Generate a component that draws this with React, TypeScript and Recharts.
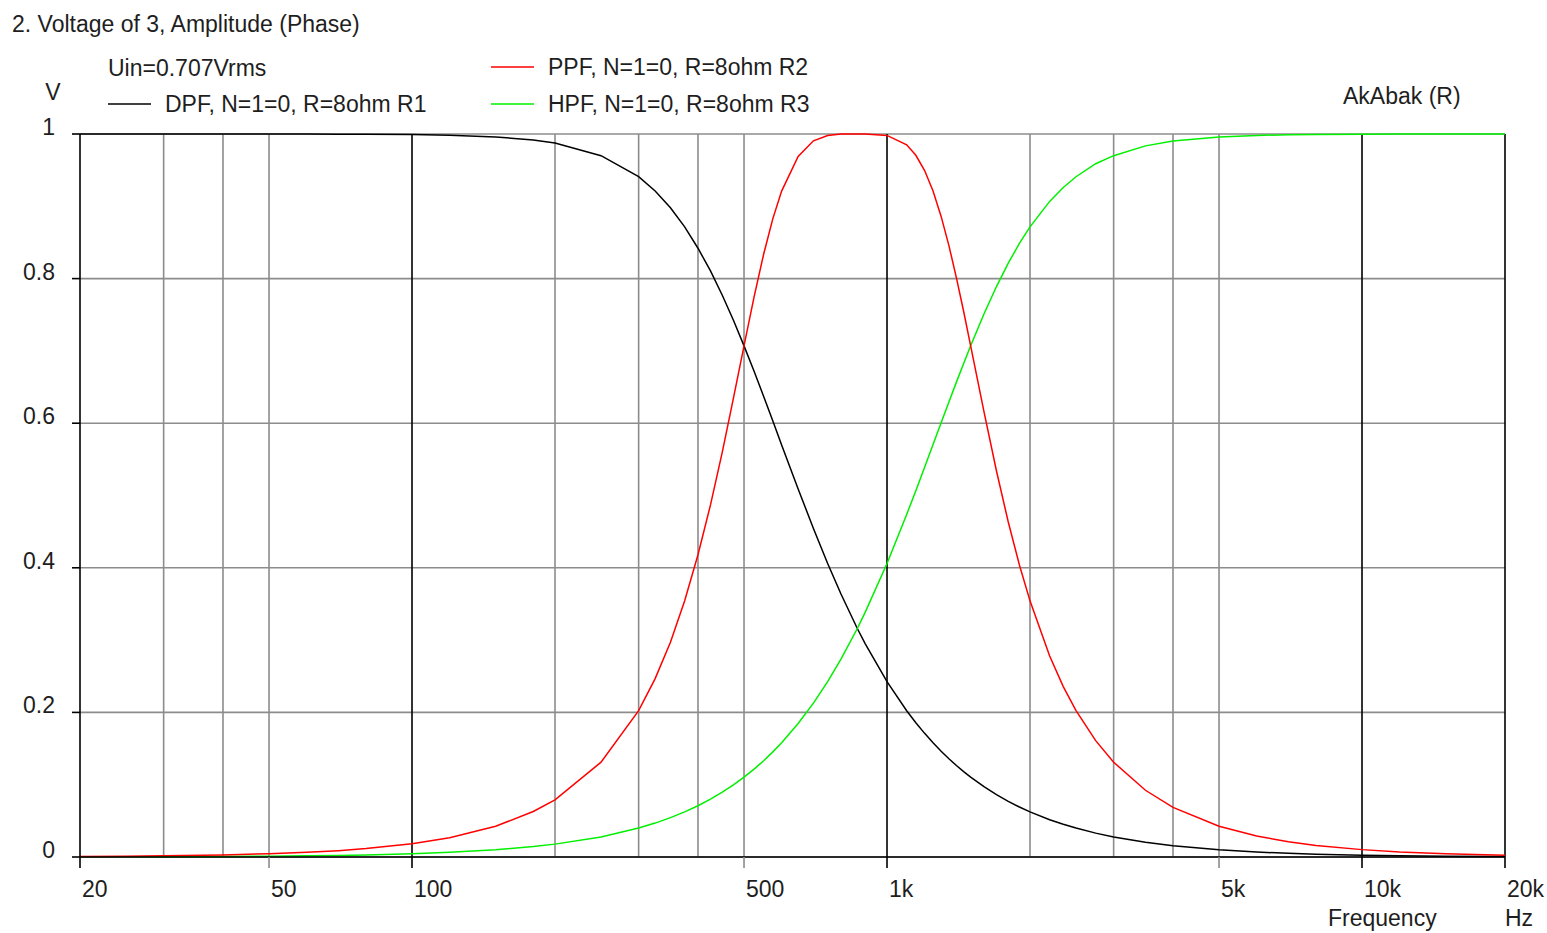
import React from 'react';
import { LineChart, Line, XAxis, YAxis, CartesianGrid, ReferenceLine, Legend } from 'recharts';

// frequency points (Hz), read along the log axis
const freqs = [
  20, 25, 30, 40, 50, 60, 70, 80, 100, 120, 150, 180, 200, 250, 300, 325, 350, 375, 400, 425,
  450, 475, 500, 525, 550, 575, 600, 650, 700, 750, 800, 866, 900, 1000, 1100, 1150, 1200, 1250,
  1300, 1350, 1400, 1450, 1500, 1600, 1700, 1800, 1900, 2000, 2200, 2350, 2500, 2750, 3000, 3500,
  4000, 5000, 6000, 7000, 8000, 10000, 12000, 15000, 20000,
];

// DPF (low pass), black
const dpfVals = [
  1.0, 1.0, 1.0, 1.0, 1.0, 0.9999, 0.9998, 0.9997, 0.9992, 0.9983, 0.996, 0.9917, 0.9875, 0.97,
  0.941, 0.9212, 0.898, 0.8716, 0.842, 0.8106, 0.777, 0.7424, 0.707, 0.6718, 0.637, 0.6031, 0.57,
  0.509, 0.4545, 0.406, 0.3638, 0.316, 0.2949, 0.2425, 0.2023, 0.1857, 0.171, 0.158, 0.1463,
  0.1359, 0.1265, 0.1181, 0.1104, 0.0972, 0.0862, 0.0769, 0.0691, 0.0624, 0.0516, 0.0452, 0.04,
  0.033, 0.0278, 0.0204, 0.0156, 0.01, 0.0069, 0.0051, 0.0039, 0.0025, 0.0017, 0.0011, 0.0006,
];

// PPF (band pass), red
const ppfVals = [
  0.0007, 0.0011, 0.0016, 0.0029, 0.0045, 0.0065, 0.0088, 0.0116, 0.0183, 0.0266, 0.0425, 0.0629,
  0.0791, 0.1312, 0.2024, 0.2467, 0.297, 0.3544, 0.418, 0.487, 0.56, 0.6346, 0.707, 0.7748, 0.834,
  0.883, 0.921, 0.969, 0.9906, 0.998, 1.0, 1.0, 1.0, 0.998, 0.985, 0.9706, 0.9495, 0.9212, 0.886,
  0.8457, 0.801, 0.7545, 0.707, 0.616, 0.5339, 0.4633, 0.4039, 0.3543, 0.278, 0.2357, 0.2024,
  0.1609, 0.1311, 0.0923, 0.0687, 0.0425, 0.029, 0.0211, 0.016, 0.0102, 0.007, 0.0045, 0.0025,
];

// HPF (high pass), green
const hpfVals = [
  0.0002, 0.0003, 0.0004, 0.0007, 0.0011, 0.0016, 0.0022, 0.0028, 0.0044, 0.0064, 0.01, 0.0144,
  0.0178, 0.0278, 0.04, 0.0469, 0.0544, 0.0624, 0.0709, 0.08, 0.0896, 0.0998, 0.1104, 0.1216,
  0.1332, 0.1454, 0.158, 0.1846, 0.2128, 0.2425, 0.2736, 0.316, 0.3387, 0.406, 0.4737, 0.5067,
  0.539, 0.5704, 0.6006, 0.6294, 0.6568, 0.6827, 0.707, 0.7511, 0.789, 0.8214, 0.8486, 0.8716,
  0.9068, 0.9261, 0.9409, 0.9589, 0.97, 0.9836, 0.9903, 0.996, 0.998, 0.999, 0.9994, 0.9996, 1.0,
  1.0, 1.0,
];

const xTicks = [20, 50, 100, 500, 1000, 5000, 10000, 20000];
const yTicks = [0, 0.2, 0.4, 0.6, 0.8, 1];
const grayGrid = [30, 40, 50, 200, 300, 400, 500, 2000, 3000, 4000, 5000];
const blackGrid = [100, 1000, 10000, 20000];

const FONT = '"Liberation Sans", Arial, sans-serif';
const GRAY = '#8c8c8c';
const TXT = '#1e1e1e';

const data = freqs.map((f, i) => ({ f, dpf: dpfVals[i], ppf: ppfVals[i], hpf: hpfVals[i] }));

const fmtHz = (v: number) => (v >= 1000 ? `${v / 1000}k` : `${v}`);

function XTick(props: any) {
  const { x, y, payload } = props;
  const v = payload.value;
  const dark = v === 20 || blackGrid.includes(v);
  return (
    <g>
      <line x1={x} x2={x} y1={y} y2={y + 11} stroke={dark ? '#000' : GRAY} strokeWidth={1.6} />
      <text x={x + 2} y={y + 40} fontSize={23} fontFamily={FONT} fill={TXT}>
        {fmtHz(v)}
      </text>
    </g>
  );
}

function YTick(props: any) {
  const { x, y, payload } = props;
  return (
    <text x={x} y={y + 1} textAnchor="end" fontSize={23} fontFamily={FONT} fill={TXT}>
      {payload.value}
    </text>
  );
}

// slot per series: [line x, line y]
const legendSlots: Record<string, [number, number]> = {
  dpf: [108, 104],
  ppf: [491, 67],
  hpf: [491, 104],
};

function LegendBlock(props: any) {
  const items = props.payload || [];
  return (
    <div style={{ position: 'relative', width: 0, height: 0 }}>
      <svg width={1547} height={134} style={{ position: 'absolute', left: 0, top: 0, overflow: 'visible' }}>
        <text x={108} y={76} fontSize={23} fontFamily={FONT} fill={TXT}>Uin=0.707Vrms</text>
        {items.map((it: any) => {
          const slot = legendSlots[it.dataKey];
          if (!slot) return null;
          const [lx, cy] = slot;
          return (
            <g key={it.dataKey}>
              <line x1={lx} x2={lx + 43} y1={cy} y2={cy} stroke={it.color} strokeWidth={1.6} />
              <text x={lx + 57} y={cy + 8} fontSize={23} fontFamily={FONT} fill={TXT}>{it.value}</text>
            </g>
          );
        })}
      </svg>
    </div>
  );
}

export default function App() {
  return (
    <div style={{ position: 'absolute', left: 0, top: 0, width: 1547, height: 933, background: '#fff' }}>
      <LineChart width={1547} height={933} data={data} margin={{ top: 134, right: 42, left: 0, bottom: 36 }}>
        <CartesianGrid vertical={false} stroke={GRAY} strokeWidth={1.6} />
        {grayGrid.map((f) => (
          <ReferenceLine key={`g${f}`} x={f} stroke={GRAY} strokeWidth={1.6} />
        ))}
        {blackGrid.map((f) => (
          <ReferenceLine key={`b${f}`} x={f} stroke="#000" strokeWidth={1.6} />
        ))}
        <XAxis
          dataKey="f"
          type="number"
          scale="log"
          domain={[20, 20000]}
          ticks={xTicks}
          interval={0}
          allowDataOverflow
          height={40}
          tickSize={0}
          tickMargin={0}
          tickLine={false}
          axisLine={{ stroke: '#000', strokeWidth: 1.6 }}
          tick={<XTick />}
        />
        <YAxis
          type="number"
          domain={[0, 1]}
          ticks={yTicks}
          interval={0}
          width={80}
          tickSize={8}
          tickMargin={17}
          tickLine={{ stroke: '#000', strokeWidth: 1.6 }}
          axisLine={{ stroke: '#000', strokeWidth: 1.6 }}
          tick={<YTick />}
        />
        <Legend
          verticalAlign="middle"
          align="center"
          layout="horizontal"
          wrapperStyle={{ top: 0, left: 0, width: 0, height: 0 }}
          content={<LegendBlock />}
        />
        <Line dataKey="dpf" name="DPF, N=1=0, R=8ohm R1" type="linear" stroke="#000000" strokeWidth={1.5} dot={false} isAnimationActive={false} />
        <Line dataKey="hpf" name="HPF, N=1=0, R=8ohm R3" type="linear" stroke="#00f000" strokeWidth={1.5} dot={false} isAnimationActive={false} />
        <Line dataKey="ppf" name="PPF, N=1=0, R=8ohm R2" type="linear" stroke="#ff0000" strokeWidth={1.5} dot={false} isAnimationActive={false} />
      </LineChart>
      <svg width={1547} height={933} style={{ position: 'absolute', left: 0, top: 0, pointerEvents: 'none' }}>
        <text x={12} y={32} fontSize={23} fontFamily={FONT} fill={TXT}>2. Voltage of 3, Amplitude (Phase)</text>
        <text x={53} y={100} textAnchor="middle" fontSize={23} fontFamily={FONT} fill={TXT}>V</text>
        <text x={1343} y={104} fontSize={23} fontFamily={FONT} fill={TXT}>AkAbak (R)</text>
        <text x={1328} y={926} fontSize={23} fontFamily={FONT} fill={TXT}>Frequency</text>
        <text x={1505} y={926} fontSize={23} fontFamily={FONT} fill={TXT}>Hz</text>
      </svg>
    </div>
  );
}
